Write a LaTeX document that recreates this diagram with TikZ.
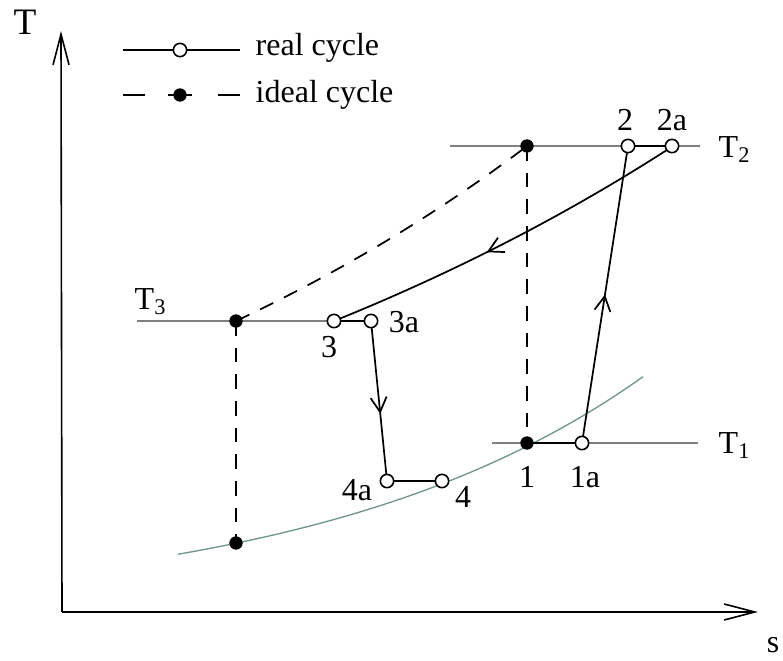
\documentclass[tikz,border=0pt]{standalone}
\usepackage{fontspec}
\setmainfont{Liberation Serif}
\usetikzlibrary{arrows.meta,decorations.markings,backgrounds}
\definecolor{tgray}{RGB}{128,128,128}
\definecolor{pgreen}{RGB}{112,150,138}
\begin{document}
\begin{tikzpicture}[x=0.75pt, y=-0.75pt, font=\fontsize{24}{28}\selectfont,
    realpt/.style={circle, draw=black, fill=white, line width=1.2pt, minimum size=10pt, inner sep=0pt},
    idealpt/.style={circle, fill=black, minimum size=10pt, inner sep=0pt},
    isotherm/.style={draw=tgray, line width=1pt},
    cycleline/.style={black, line width=1.3pt},
    idealline/.style={black, line width=1.3pt, dash pattern=on 11pt off 9pt},
    midarrow/.style={postaction={decorate, decoration={markings,
        mark=at position #1 with {\arrow{Straight Barb[length=11pt, width=12pt]}}}}}]
    \useasboundingbox (0,0) rectangle (783,661);
    % axes
    \coordinate (origin) at (62,612);
    \coordinate (ytop) at (61,31);
    \coordinate (xend) at (758,612);
    \draw[line width=1.2pt, -{Straight Barb[length=23pt, width=12pt]}] (origin) -- (ytop);
    \draw[line width=1.2pt, -{Straight Barb[length=23pt, width=12pt]}] (origin) -- (xend);
    \node[name=ylab, font=\fontsize{28}{32}\selectfont] at (25,22) {T};
    \node[name=xlab] at (773,645) {s};
    % legend
    \coordinate (leg1a) at (123,50);
    \coordinate (leg1b) at (240,50);
    \coordinate (leg2a) at (123,95);
    \coordinate (leg2b) at (240,95);
    \draw[cycleline] (leg1a) -- (leg1b);
    \draw[black, line width=1.3pt, dash pattern=on 16.5pt off 17.5pt on 17.5pt off 19.5pt] (leg2a) -- (leg2b);
    \node[realpt, name=legreal] at (180,50) {};
    \node[idealpt, name=legideal] at (180,95) {};
    \node[name=legtxt1, anchor=west] at (251,48) {real cycle};
    \node[name=legtxt2, anchor=west] at (251,95) {ideal cycle};
    % state points
    \node[idealpt, name=i2] at (527,146) {};
    \node[realpt, name=r2] at (628,146) {};
    \node[realpt, name=r2a] at (672,146) {};
    \node[idealpt, name=i3] at (236,321) {};
    \node[realpt, name=r3] at (334,321) {};
    \node[realpt, name=r3a] at (371,321) {};
    \node[idealpt, name=i1] at (527,443) {};
    \node[realpt, name=r1a] at (582,443) {};
    \node[realpt, name=r4a] at (387,481) {};
    \node[realpt, name=r4] at (442,481) {};
    \node[idealpt, name=i4] at (236,543) {};
    % labels
    \node[name=lbl2] at (625,120) {2};
    \node[name=lbl2a] at (672,120) {2a};
    \node[name=lbl3] at (329,347) {3};
    \node[name=lbl3a] at (404,322) {3a};
    \node[name=lbl1] at (527,477) {1};
    \node[name=lbl1a] at (585,477) {1a};
    \node[name=lbl4a] at (357,490) {4a};
    \node[name=lbl4] at (463,497) {4};
    \node[name=lblT2, anchor=west] at (714,150) {T\textsubscript{2}};
    \node[name=lblT3, anchor=west] at (130,302) {T\textsubscript{3}};
    \node[name=lblT1, anchor=west] at (714,446) {T\textsubscript{1}};
    % isotherms and isobars
    \coordinate (t2l) at (450,146);
    \coordinate (t2r) at (700,146);
    \coordinate (t3l) at (137,321);
    \coordinate (t1l) at (492,443);
    \coordinate (t1r) at (698,443);
    \begin{scope}[on background layer]
        \draw[isotherm] (t2l) -- (t2r);
        \draw[isotherm] (t3l) -- (r3.center);
        \draw[isotherm] (t1l) -- (t1r);
        \draw[pgreen, line width=1pt, domain=178:643, samples=60] plot (\x, {612-69*exp(0.00302*(\x-237))});
        % real cycle
        \draw[cycleline] (r2.center) -- (r2a.center);
        \draw[cycleline] (r3.center) -- (r3a.center);
        \draw[cycleline] (r4a.center) -- (r4.center);
        \draw[cycleline] (i1.center) -- (r1a.center);
        \draw[cycleline, midarrow=0.5] (r1a.center) -- (r2.center);
        \draw[cycleline, midarrow=0.58] (r3a.center) -- (r4a.center);
        \draw[cycleline, midarrow=0.56, domain=672:334, samples=60] plot (\x, {612-291*exp(0.001393*(\x-334))});
        % ideal cycle
        \draw[idealline, domain=236:527, samples=60] plot (\x, {612-291*exp(0.001624*(\x-236))});
        \draw[idealline] (i2.center) -- (i1.center);
        \draw[idealline] (i3.center) -- (i4.center);
    \end{scope}
\end{tikzpicture}
\end{document}
